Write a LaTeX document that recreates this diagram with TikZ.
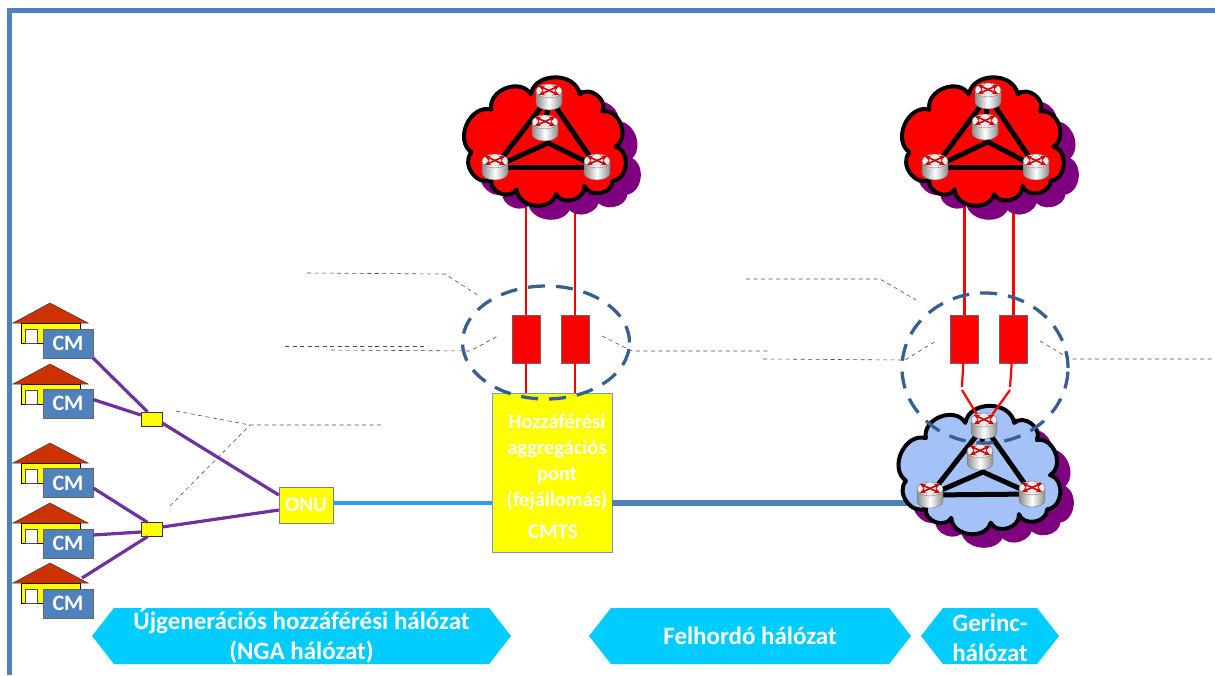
\documentclass[tikz,border=0pt]{standalone}
\usepackage{fontspec}
\setmainfont{Carlito}
\usetikzlibrary{shapes.geometric, shapes.symbols, arrows, calc}
\definecolor{framecol}{HTML}{4F81BD}
\definecolor{purplecol}{HTML}{7F007F}
\definecolor{wirecol}{HTML}{7030A0}
\definecolor{ringcol}{HTML}{376092}
\definecolor{skycol}{HTML}{00CCFF}
\definecolor{linkcol}{HTML}{3399FF}
\definecolor{cloudblue}{HTML}{A4C2F8}
\definecolor{roofcol}{HTML}{CC3300}
\definecolor{boxyellow}{HTML}{FFFF00}
\tikzstyle{spot} = [circle, inner sep=0pt, minimum size=1pt]
\tikzstyle{backbone} = [line width=5pt, black]
\tikzstyle{gateway} = [rectangle, minimum width=28pt, minimum height=48pt, draw=black!60, fill=red]
\tikzstyle{redline} = [red, line width=2.2pt]
\tikzstyle{ring} = [ellipse, draw=ringcol, line width=3.3pt, dash pattern=on 17pt off 11pt, inner sep=0pt]
\tikzstyle{modem} = [rectangle, minimum width=50pt, minimum height=29pt, inner sep=0pt, draw=black!60, fill=framecol, text=white, font=\bfseries\fontsize{22}{22}\selectfont]
\tikzstyle{splitter} = [rectangle, minimum width=21pt, minimum height=14pt, inner sep=0pt, draw=black!80, fill=boxyellow]
\tikzstyle{wire} = [wirecol, line width=3.2pt]
\tikzstyle{note} = [black!70, dash pattern=on 4pt off 3.5pt, line width=0.6pt]
\tikzstyle{banner} = [signal, signal to=west and east, signal pointer angle=104, inner sep=0pt, minimum height=56pt, fill=skycol, text=white, align=center, font=\bfseries\fontsize{25}{30}\selectfont]
\tikzstyle{puff} = [bend left=80, looseness=1.2]
\newcommand{\cloudline}{(-14,-48) to [puff] (38,-48) to [puff] (62,-30) to [puff] (76,7) to [puff] (73,43) to [puff] (43,48) to [puff] (13,57) to [puff] (-29,52) to [puff] (-56,42) to [puff] (-77,13) to [puff] (-56,-32) to [puff] (-14,-48)}
\tikzset{
  netcloud/.pic={
    \path [xscale=0.94, yscale=0.95, draw=black, line width=4pt, line join=round, fill=#1] \cloudline -- cycle;
  },
  cloudshade/.pic={
    \path [xscale=0.94, yscale=0.95, draw=purplecol, line width=4pt, fill=purplecol] \cloudline -- cycle;
  },
  router/.pic={
    \path [draw=black!55, line width=0.4pt, left color=black!45, right color=black!45, middle color=white]
      (-13,-6) -- (-13,6) .. controls (-13,10) and (-7,13) .. (0,13) .. controls (7,13) and (13,10) .. (13,6) -- (13,-6) -- cycle;
    \path [draw=black!55, line width=0.4pt, fill=black!8] (0,-6) ellipse [x radius=13, y radius=7];
    \draw [red!80!black, line width=1.6pt, <->, >=stealth] (-10,-11) -- (10,-2);
    \draw [red!80!black, line width=1.6pt, <->, >=stealth] (10,-11) -- (-10,-2);
  },
  house/.pic={
    \path [draw=black, line width=0.7pt, fill=boxyellow] (-29,0) rectangle (30,20);
    \path [draw=black!70, line width=0.7pt, fill=white] (-25,6) rectangle (-13,20);
    \path [draw=black!80, line width=0.5pt, fill=roofcol] (0,-20) -- (38,0) -- (-37,0) -- cycle;
  }
}
\begin{document}
\begin{tikzpicture}[x=1pt, y=-1pt, node distance=49pt]
    \useasboundingbox (0,0) rectangle (1215,675);

    \fill [framecol] (7,8) rectangle (1215,13);
    \fill [framecol] (7,8) rectangle (12,675);

    \node (gwa) [gateway] at (526,339) {};
    \node (gwb) [gateway, right of=gwa] {};
    \node (gwc) [gateway] at (964.5,339) {};
    \node (gwd) [gateway, right of=gwc] {};
    \node (cmts) [rectangle, minimum width=120pt, minimum height=159pt, draw=framecol!80, fill=boxyellow] at (552,472.5) {};
    \node (onu) [rectangle, minimum width=54pt, minimum height=36pt, inner sep=0pt, draw=black!50, fill=boxyellow, text=white, font=\bfseries\fontsize{21}{21}\selectfont] at (306,505) {ONU};

    \coordinate (feeta) at (544,190);
    \coordinate (feetb) at (982,190);
    \coordinate (inlet) at (492,503);
    \coordinate (hook) at (920,503);

%links behind the clouds
\draw [redline] (feeta -| gwa) -- (gwa);
\draw [redline] (feeta -| gwb) -- (gwb);
\draw [redline] (gwa) -- (gwa |- cmts.north);
\draw [redline] (gwb) -- (gwb |- cmts.north);
\draw [redline] (feetb -| gwc) -- (gwc);
\draw [redline] (feetb -| gwd) -- (gwd);
\draw [linkcol, line width=3.2pt] (onu.east |- inlet) -- (inlet);
\draw [framecol, line width=6pt] (cmts.east |- inlet) -- (hook);

    \pic at (557,152) {cloudshade};
    \pic at (544,140) {netcloud=red};
    \pic at (995,152) {cloudshade};
    \pic at (982,140) {netcloud=red};
    \pic at (990,480) {cloudshade};
    \pic at (978.5,468.5) {netcloud=cloudblue};

    \foreach \c/\tx/\ty/\ix/\iy/\lx/\ly/\rx/\ry in {a/549/97/545/128/495/167/597/167,
                                                    b/988/96/985/127/935/167/1036/167,
                                                    c/984/426/980/457/930/495/1032/494} {
        \node (top\c) [spot] at (\tx,\ty) {};
        \node (mid\c) [spot] at (\ix,\iy) {};
        \node (lef\c) [spot] at (\lx,\ly) {};
        \node (rig\c) [spot] at (\rx,\ry) {};
        \draw [backbone] (top\c) -- (lef\c);
        \draw [backbone] (lef\c) -- (rig\c);
        \draw [backbone] (rig\c) -- (top\c);
        \draw [backbone] (top\c) -- (mid\c);
        \draw [backbone] (mid\c.center) -- ++(3,15) coordinate (hub\c);
        \draw [backbone] (hub\c) -- (lef\c);
        \draw [backbone] (hub\c) -- (rig\c);
    }

\coordinate (stuba) at (962,387);
\coordinate (stubb) at (1010,387);
\draw [redline] (gwc) -- (stuba);
\draw [redline] (gwd) -- (stubb);
\draw [redline] ($(stuba)+(0,3)$) -- (topc);
\draw [redline] ($(stubb)+(0,3)$) -- (topc);

    \foreach \c in {a,b,c} {
        \pic at (top\c) {router};
        \pic at (mid\c) {router};
        \pic at (lef\c) {router};
        \pic at (rig\c) {router};
    }

    \node (ringa) [ring, minimum width=167pt, minimum height=113pt] at (546,342.5) {};
    \node (ringb) [ring, minimum width=166pt, minimum height=150pt] at (985,368) {};

    \node (txta) [text=white, align=center, font=\bfseries\fontsize{20.5}{26}\selectfont] at (557,462) {Hozzáférési\\aggregációs\\pont\\(fejállomás)};
    \node (txtb) [text=white, font=\bfseries\fontsize{21}{21}\selectfont] at (553,532) {CMTS};

    \node (spla) [splitter] at (151.5,419) {};
    \node (splb) [splitter] at (151.5,529.5) {};

    \coordinate (tap) at (82,578);

\draw [wire] (tap) -- ($(splb.south)+(-4,0)$);

    \foreach \y in {323,384,463,523,583} {
        \pic at (50,\y) {house};
    }
    \node (cm1) [modem] at (68,343.5) {CM};
    \node (cm2) [modem] at (68,403.5) {CM};
    \node (cm3) [modem] at (68,483) {CM};
    \node (cm4) [modem] at (68,543.5) {CM};
    \node (cm5) [modem] at (68,603.5) {CM};

\draw [wire] (cm1.south east) -- ($(spla.north)+(-4,0)$);
\draw [wire] ($(cm2.east)+(0,-4)$) -- ($(spla.west)+(0,-4)$);
\draw [wire] ($(spla.east)+(0,4)$) -- ($(onu.west)+(0,-10)$);
\draw [wire] ($(cm3.east)+(0,5)$) -- ($(splb.north)+(-4,0)$);
\draw [wire] ($(cm4.east)+(0,-8.5)$) -- ($(splb.west)+(0,2.5)$);
\draw [wire] ($(splb.east)+(0,-2.5)$) -- ($(onu.west)+(0,5)$);

%leader lines
\coordinate (n1) at (307,273);
\coordinate (n2) at (445,274);
\coordinate (n3) at (479,296);
\draw [note] (n1) -- (n2) -- (n3);
\coordinate (n4) at (285,346);
\coordinate (n5) at (425,346);
\draw [note] (n4) -- (n5);
\coordinate (n6) at (331,350);
\coordinate (n7) at (470,351);
\coordinate (n8) at (498,336);
\draw [note] (n6) -- (n7) -- (n8);
\coordinate (n9) at (602,336);
\coordinate (n10) at (632,351);
\coordinate (n11) at (770,351);
\draw [note] (n9) -- (n10) -- (n11);
\coordinate (m1) at (746,279);
\coordinate (m2) at (880,279);
\coordinate (m3) at (916,300);
\draw [note] (m1) -- (m2) -- (m3);
\coordinate (m4) at (763,359);
\coordinate (m5) at (905,360);
\coordinate (m6) at (936,341);
\draw [note] (m4) -- (m5) -- (m6);
\coordinate (m7) at (1040,341);
\coordinate (m8) at (1070,359);
\coordinate (m9) at (1212,359);
\draw [note] (m7) -- (m8) -- (m9);
\coordinate (k1) at (176,411);
\coordinate (k2) at (250,425);
\coordinate (k3) at (383,425);
\coordinate (k4) at (170,506);
\draw [note] (k1) -- (k2) -- (k3);
\draw [note] (k4) -- (k2);

    \node (nga) [banner, minimum width=419pt] at (301.5,636) {\rule{0pt}{21pt}Újgenerációs hozzáférési hálózat\\(NGA hálózat)};
    \node (felh) [banner, minimum width=322pt] at (750,636) {Felhordó hálózat};
    \node (ger) [banner, minimum width=138pt] at (990,636) {\rule{0pt}{21pt}Gerinc-\\hálózat};

\end{tikzpicture}
\end{document}
